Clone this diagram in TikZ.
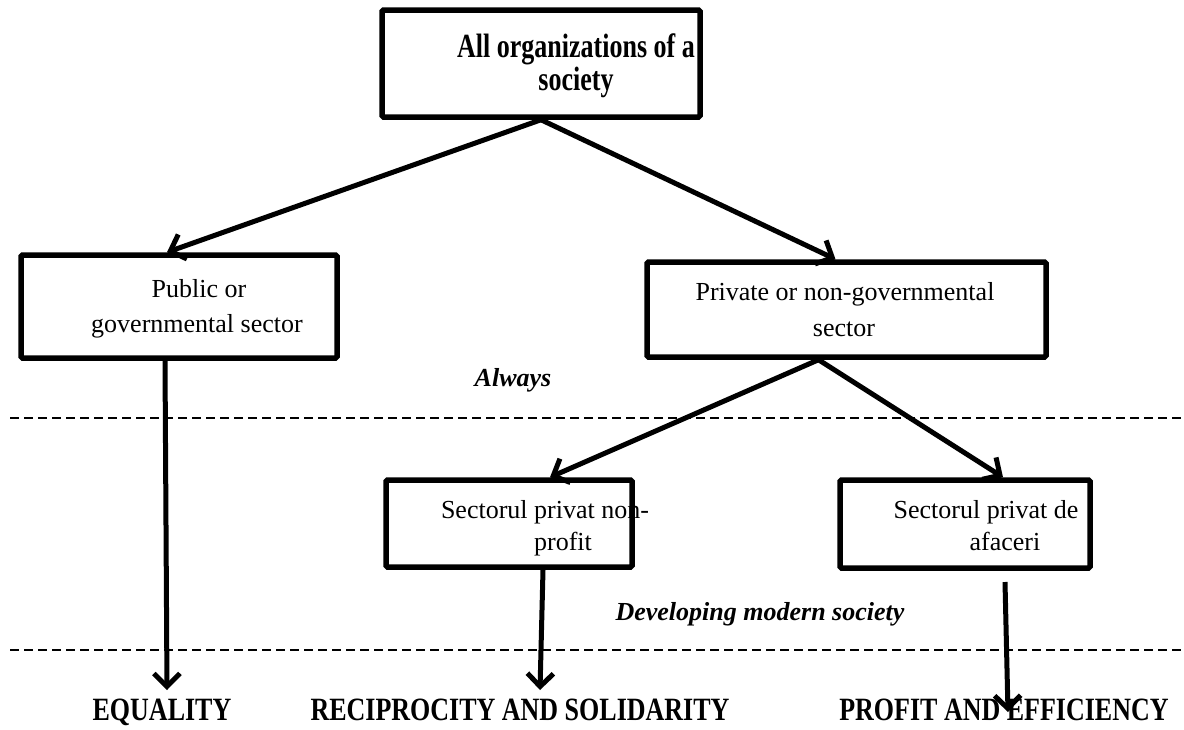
\documentclass[tikz,border=0pt]{standalone}
\usepackage{fontspec}
\setmainfont{Liberation Serif}
\usepackage{graphicx}
\usetikzlibrary{arrows.meta}
\begin{document}
\begin{tikzpicture}[x=1pt,y=-1pt,
  box/.style={draw, line width=5.5pt, rounded corners=1.5pt, inner sep=0pt},
  reg/.style={font=\fontsize{26}{30}\selectfont, anchor=base, inner sep=0pt},
  bld/.style={font=\fontsize{26}{30}\selectfont\bfseries, anchor=base, inner sep=0pt},
  itl/.style={font=\fontsize{26}{30}\selectfont\bfseries\itshape, anchor=base, inner sep=0pt},
  arr/.style={line width=5pt, -{Straight Barb[length=13pt,width=26pt,line width=5pt]}},
  sepline/.style={line width=1.5pt, dash pattern=on 9pt off 5pt}]
\useasboundingbox (0,0) rectangle (1184,729);

% boxes
\node[box, minimum width=318pt, minimum height=107pt] (top) at (541,63.5) {};
\node[box, minimum width=316pt, minimum height=103pt] (pub) at (179,306.5) {};
\node[box, minimum width=399pt, minimum height=95pt] (priv) at (846.5,309.5) {};
\node[box, minimum width=246pt, minimum height=87pt] (npo) at (509,523.5) {};
\node[box, minimum width=250pt, minimum height=88pt] (biz) at (965,524) {};

% box texts
\node[bld] (t1) at (576,57) {\scalebox{1}[1.3]{All organizations of a}};
\node[bld] (t2) at (576,90) {\scalebox{1}[1.3]{society}};
\node[reg] (p1) at (199,297) {Public or};
\node[reg] (p2) at (197,332) {governmental sector};
\node[reg] (v1) at (845,300) {Private or non-governmental};
\node[reg] (v2) at (844,336) {sector};
\node[reg] (n1) at (545,518) {Sectorul privat non-};
\node[reg] (n2) at (563,550) {profit};
\node[reg] (b1) at (986,518) {Sectorul privat de};
\node[reg] (b2) at (1005,550) {afaceri};

% italic labels
\node[itl] (always) at (513,386) {Always};
\node[itl] (dev) at (760,620) {Developing modern society};

% bottom labels
\node[bld] (eq) at (162,720) {\scalebox{1}[1.25]{EQUALITY}};
\node[bld] (rs) at (520,720) {\scalebox{1}[1.25]{RECIPROCITY AND SOLIDARITY}};
\node[bld] (pe) at (1004,720) {\scalebox{1}[1.25]{PROFIT AND EFFICIENCY}};

% dashed separators
\draw[sepline] (10,418) -- (1184,418);
\draw[sepline] (10,650) -- (1184,650);

% connectors
\coordinate (e1) at (167,690);
\coordinate (e2) at (540,690);
\coordinate (s3) at (1005,582);
\coordinate (e3) at (1008,712);

\draw[arr] (top.south) -- ([xshift=-12pt]pub.north);
\draw[arr] (top.south) -- ([xshift=-11pt]priv.north);
\draw[arr] ([xshift=-28pt]priv.south) -- ([xshift=41pt]npo.north);
\draw[arr] ([xshift=-28pt]priv.south) -- ([xshift=38pt]biz.north);
\draw[arr] ([xshift=-14pt]pub.south) -- (e1);
\draw[arr] ([xshift=34pt]npo.south) -- (e2);
\draw[arr] (s3) -- (e3);
\end{tikzpicture}
\end{document}
